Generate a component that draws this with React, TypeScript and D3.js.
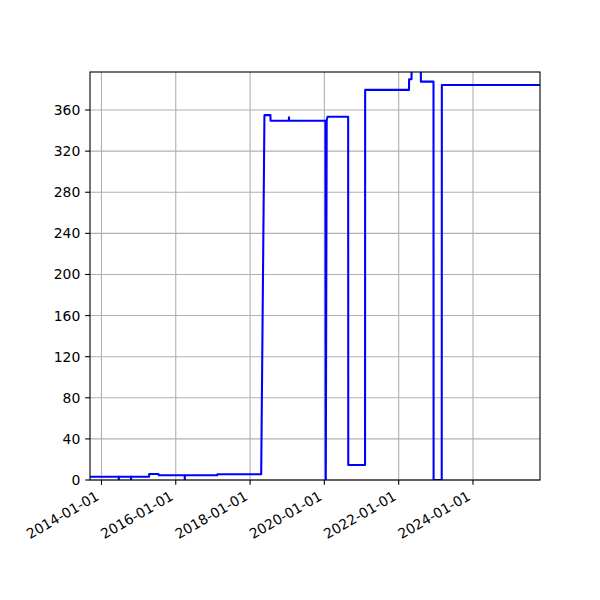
import React from 'react';
import * as d3 from 'd3';

const dates = [
  '2013-09-01', '2014-06-19', '2014-06-20', '2014-06-21',
  '2014-10-18', '2014-10-19', '2014-10-20',
  '2015-04-14', '2015-04-15', '2015-07-16', '2015-07-17',
  '2016-03-29', '2016-03-30', '2016-03-31',
  '2017-02-12', '2017-02-13', '2018-04-20', '2018-05-22',
  '2018-07-20', '2018-07-21', '2019-01-17', '2019-01-18', '2019-01-19',
  '2020-01-12', '2020-01-15', '2020-01-24', '2020-02-02',
  '2020-08-22', '2020-08-23', '2021-02-04', '2021-02-05',
  '2022-04-12', '2022-04-13', '2022-05-07', '2022-05-08',
  '2022-08-06', '2022-08-07', '2022-12-09', '2022-12-10',
  '2023-02-28', '2023-03-01', '2025-12-31'
];
const values = [
  3.2, 3.2, 0, 3.2,
  3.2, 0, 3.2,
  3.2, 5.8, 5.8, 4.6,
  4.6, 0, 4.6,
  4.6, 5.6, 5.6, 355,
  355, 349.5, 349.5, 353, 349.5,
  349.5, 0, 350, 353.5,
  353.5, 14.6, 14.6, 379.6,
  379.6, 390, 390, 420,
  420, 387.6, 387.6, 0,
  0, 384.4, 384.4
];
const yTicks = [0, 40, 80, 120, 160, 200, 240, 280, 320, 360];
const xTickLabels = ['2014-01-01', '2016-01-01', '2018-01-01', '2020-01-01', '2022-01-01', '2024-01-01'];

const W = 600, H = 600;
const margin = { left: 90, right: 60, top: 72, bottom: 120 };
const font = 'DejaVu Sans, sans-serif';
const fs = 13.9;
const tickLen = 4.86;
const thin = 1.1;

export default function App() {
  const parse = d3.utcParse('%Y-%m-%d');
  const data = dates.map((d, i) => ({ t: parse(d)!, v: values[i] }));

  const x = d3.scaleUtc()
    .domain([parse('2013-09-10')!, parse('2025-10-21')!])
    .range([margin.left, W - margin.right]);
  const y = d3.scaleLinear()
    .domain([0, 397])
    .range([H - margin.bottom, margin.top]);

  const line = d3.line<{ t: Date; v: number }>()
    .x(d => x(d.t))
    .y(d => y(d.v));

  const x0 = margin.left, x1 = W - margin.right;
  const y0 = H - margin.bottom, y1 = margin.top;

  return (
    <svg width={W} height={H} style={{ position: 'absolute', left: 0, top: 0, background: '#fff' }}>
      <defs>
        <clipPath id="plot-clip">
          <rect x={x0} y={y1} width={x1 - x0} height={y0 - y1} />
        </clipPath>
      </defs>

      {/* grid */}
      {xTickLabels.map(l => (
        <line key={'gx' + l} x1={x(parse(l)!)} x2={x(parse(l)!)} y1={y0} y2={y1}
          stroke="#b0b0b0" strokeWidth={thin} />
      ))}
      {yTicks.map(t => (
        <line key={'gy' + t} x1={x0} x2={x1} y1={y(t)} y2={y(t)}
          stroke="#b0b0b0" strokeWidth={thin} />
      ))}

      {/* series */}
      <path d={line(data) ?? ''} fill="none" stroke="#0000ff" strokeWidth={2.08}
        strokeLinejoin="round" clipPath="url(#plot-clip)" />

      {/* frame */}
      <rect x={x0} y={y1} width={x1 - x0} height={y0 - y1} fill="none" stroke="#000" strokeWidth={thin} />

      {/* y axis */}
      {yTicks.map(t => (
        <g key={'ty' + t}>
          <line x1={x0 - tickLen} x2={x0} y1={y(t)} y2={y(t)} stroke="#000" strokeWidth={thin} />
          <text x={x0 - 2 * tickLen} y={y(t)} dy="0.36em" textAnchor="end" fontFamily={font} fontSize={fs}>{t}</text>
        </g>
      ))}

      {/* x axis */}
      {xTickLabels.map(l => {
        const px = x(parse(l)!);
        const bx = px - 1.5, by = 499;
        return (
          <g key={'tx' + l}>
            <line x1={px} x2={px} y1={y0} y2={y0 + tickLen} stroke="#000" strokeWidth={thin} />
            <text x={bx} y={by} textAnchor="end" fontFamily={font} fontSize={fs}
              transform={`rotate(-30, ${bx}, ${by})`}>{l}</text>
          </g>
        );
      })}
    </svg>
  );
}
